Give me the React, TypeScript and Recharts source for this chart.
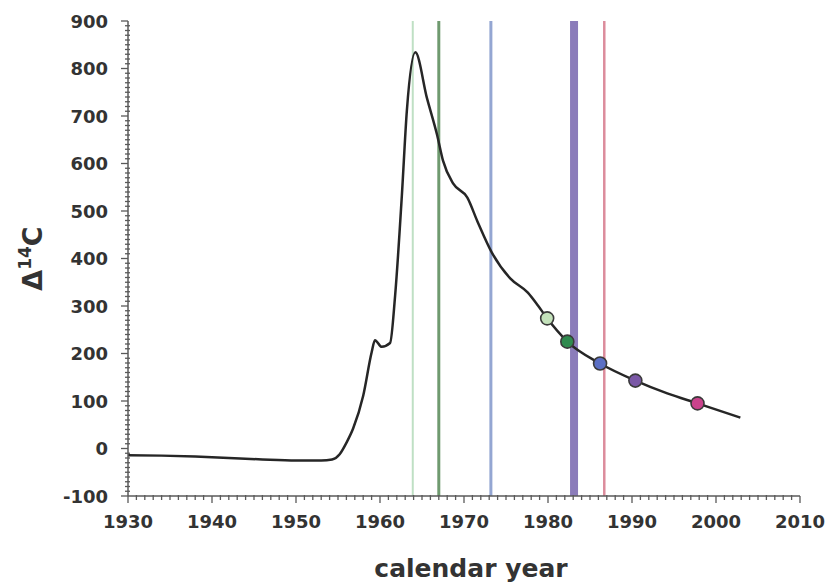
import React from 'react';
import { ComposedChart, Line, Scatter, XAxis, YAxis, ReferenceLine, Cell } from 'recharts';

// Atmospheric bomb-curve (Δ14C) data
const curveYears = [1930, 1934, 1938, 1942, 1946, 1950, 1953, 1954.3, 1955.2, 1956, 1956.8, 1958, 1959, 1959.4, 1960.2, 1961.2, 1961.8, 1962.6, 1963.2, 1964.2, 1965.6, 1966.8, 1967.5, 1968.7, 1970.4, 1971.6, 1973.3, 1975.5, 1977.6, 1978.8, 1979.9, 1982.3, 1986.2, 1990.4, 1994.2, 1997.8, 2002.9];
const curveValues = [-14, -15, -17, -20, -23, -25, -25, -23, -12, 12, 42, 111, 202, 228, 214, 222, 322, 532, 712, 834, 737, 660, 606, 558, 528, 478, 413, 358, 328, 301, 274, 225, 179, 143, 116, 95, 65];

// Sample points on the curve
const sampleYears = [1979.9, 1982.3, 1986.2, 1990.4, 1997.8];
const sampleValues = [274, 225, 179, 143, 95];
const sampleColors = ['#c4e2bb', '#2f8a4e', '#5b6fc4', '#7a58a6', '#c9438c'];

// Vertical marker lines
const markerYears = [1963.9, 1967.0, 1973.2, 1983.1, 1986.7];
const markerColors = ['#bfe0c4', '#6f9a6f', '#94a6d2', '#8b7cba', '#dc8c9c'];
const markerWidths = [2, 3, 3, 8, 2.5];

// Axis ticks
const xMajorTicks = [1930, 1940, 1950, 1960, 1970, 1980, 1990, 2000, 2010];
const yMajorTicks = [-100, 0, 100, 200, 300, 400, 500, 600, 700, 800, 900];

const curveData = curveYears.map((year, i) => ({ year, value: curveValues[i] }));
const sampleData = sampleYears.map((year, i) => ({ year, value: sampleValues[i] }));

const xAllTicks: number[] = [];
for (let yr = xMajorTicks[0]; yr <= xMajorTicks[xMajorTicks.length - 1]; yr += 1) xAllTicks.push(yr);
const yAllTicks: number[] = [];
for (let v = yMajorTicks[0]; v <= yMajorTicks[yMajorTicks.length - 1]; v += 10) yAllTicks.push(v);

const FONT = '"DejaVu Sans", sans-serif';
const TEXT = '#333333';
const AXIS = '#5a5a5a';

const XTick = (props: any) => {
  const { x, y, payload } = props;
  const v = payload.value;
  const major = xMajorTicks.includes(v);
  return (
    <g>
      <line x1={x} x2={x} y1={y - (major ? 0 : 1)} y2={y + (major ? 7 : 4)} stroke={AXIS} strokeWidth={1.3} />
      {major && (
        <text x={x} y={y + 32} textAnchor="middle" fontFamily={FONT} fontWeight="bold" fontSize={18} fill={TEXT}>
          {v}
        </text>
      )}
    </g>
  );
};

const YTick = (props: any) => {
  const { x, y, payload } = props;
  const v = payload.value;
  const major = yMajorTicks.includes(v);
  return (
    <g>
      <line x1={x - (major ? 7 : 3)} x2={x + (major ? 0 : 2)} y1={y} y2={y} stroke={AXIS} strokeWidth={1.3} />
      {major && (
        <text x={x - 20} y={y + 6.5} textAnchor="end" fontFamily={FONT} fontWeight="bold" fontSize={18} fill={TEXT}>
          {v}
        </text>
      )}
    </g>
  );
};

const YLabel = (props: any) => {
  const vb = props.viewBox || { x: 0, y: 21, width: 128, height: 475 };
  const cx = vb.x + 42;
  const cy = vb.y + vb.height / 2;
  return (
    <text x={cx} y={cy} transform={`rotate(-90, ${cx}, ${cy})`} textAnchor="middle" fontFamily={FONT} fontWeight="bold" fontSize={27} fill={TEXT}>
      Δ<tspan fontSize={17} dy={-11}>14</tspan><tspan dy={11}>C</tspan>
    </text>
  );
};

const XLabel = (props: any) => {
  const vb = props.viewBox || { x: 128, y: 496, width: 672, height: 30 };
  return (
    <text x={vb.x + vb.width / 2 + 7} y={vb.y + 81} textAnchor="middle" fontFamily={FONT} fontWeight="bold" fontSize={25} fill={TEXT}>
      calendar year
    </text>
  );
};

const Dot = (props: any) => {
  const { cx, cy, fill } = props;
  return <circle cx={cx} cy={cy} r={6.5} fill={fill} stroke="#3a3a3a" strokeWidth={1.6} />;
};

export default function App() {
  return (
    <div style={{ position: 'absolute', left: 0, top: 0, width: 825, height: 587, background: '#ffffff' }}>
      <ComposedChart width={825} height={587} margin={{ top: 21, right: 25, bottom: 61, left: 0 }}>
        <XAxis
          dataKey="year"
          type="number"
          domain={[1930, 2010]}
          ticks={xAllTicks}
          interval={0}
          height={30}
          tickSize={0}
          tickMargin={0}
          tickLine={false}
          axisLine={{ stroke: AXIS, strokeWidth: 1.5 }}
          tick={(p: any) => <XTick {...p} />}
          label={{ content: (p: any) => <XLabel {...p} /> }}
          allowDataOverflow
        />
        <YAxis
          type="number"
          domain={[-100, 900]}
          ticks={yAllTicks}
          interval={0}
          width={128}
          tickSize={0}
          tickMargin={0}
          tickLine={false}
          axisLine={{ stroke: AXIS, strokeWidth: 1.5 }}
          tick={(p: any) => <YTick {...p} />}
          label={{ content: (p: any) => <YLabel {...p} /> }}
          allowDataOverflow
        />
        {markerYears.map((yr, i) => (
          <ReferenceLine key={yr} x={yr} stroke={markerColors[i]} strokeWidth={markerWidths[i]} />
        ))}
        <Line
          data={curveData}
          dataKey="value"
          type="monotone"
          stroke="#262626"
          strokeWidth={2.5}
          dot={false}
          activeDot={false}
          isAnimationActive={false}
        />
        <Scatter data={sampleData} dataKey="value" shape={(p: any) => <Dot {...p} />} isAnimationActive={false}>
          {sampleData.map((d, i) => (
            <Cell key={d.year} fill={sampleColors[i]} />
          ))}
        </Scatter>
      </ComposedChart>
    </div>
  );
}
